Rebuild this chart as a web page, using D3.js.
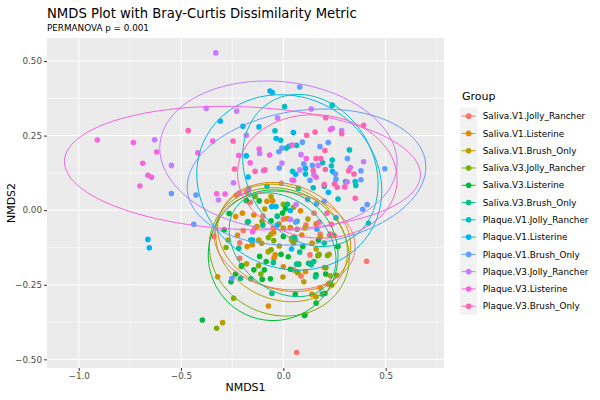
<!DOCTYPE html>
<html>
<head>
<meta charset="utf-8">
<script src="https://cdn.jsdelivr.net/npm/d3@7"></script>
<style>
  body { margin: 0; background: #fff; }
  text { font-family: "DejaVu Sans", sans-serif; }
</style>
</head>
<body>
<div id="chart"></div>
<script>
// group names, in legend order
const groups = ['Saliva.V1.Jolly_Rancher', 'Saliva.V1.Listerine', 'Saliva.V1.Brush_Only',
    'Saliva.V3.Jolly_Rancher', 'Saliva.V3.Listerine', 'Saliva.V3.Brush_Only',
    'Plaque.V1.Jolly_Rancher', 'Plaque.V1.Listerine', 'Plaque.V1.Brush_Only',
    'Plaque.V3.Jolly_Rancher', 'Plaque.V3.Listerine', 'Plaque.V3.Brush_Only'];

const colors = ['#F8766D', '#DE8C00', '#B79F00', '#7CAE00', '#00BA38', '#00C08B',
    '#00BFC4', '#00B4F0', '#619CFF', '#C77CFF', '#F564E3', '#FF64B0'];

// NMDS scores, [NMDS1, NMDS2]
const salivaV1JR = [[0.407,-0.171],[0.065,-0.477],[0.220,-0.248],[-0.213,-0.161],[0.086,-0.221],
    [-0.162,0.026],[-0.196,-0.068],[-0.340,-0.088],[0.235,-0.047],[0.248,-0.085],[-0.213,-0.109],
    [-0.140,-0.060],[0.110,-0.050],[0.180,-0.080],[0.000,-0.030],[0.060,-0.100],[-0.050,-0.060],
    [0.130,-0.150],[-0.100,-0.020],[0.150,-0.010],[-0.230,0.050],[0.050,-0.200]];
const salivaV1List = [[-0.073,-0.321],[-0.321,-0.223],[0.140,-0.282],[0.201,-0.192],[0.108,-0.206],
    [-0.233,-0.021],[-0.144,-0.016],[0.019,-0.028],[0.084,-0.002],[-0.129,-0.055],[-0.021,-0.046],
    [0.034,-0.058],[0.160,-0.046],[0.090,-0.083],[0.226,-0.084],[-0.224,-0.084],[-0.177,-0.122],
    [-0.080,0.030],[0.140,-0.110],[-0.040,-0.150],[0.000,-0.190],[0.180,-0.260],[-0.200,-0.010],
    [-0.052,0.031],[-0.047,-0.075],[-0.152,-0.116],[0.040,-0.094],[0.174,-0.150],[0.224,-0.245],
    [-0.046,-0.161]];
const salivaV1Brush = [[-0.297,-0.377],[-0.002,-0.224],[-0.060,0.046],[-0.091,0.004],[-0.060,-0.080],
    [0.000,-0.060],[0.160,-0.130],[-0.180,-0.180],[0.230,-0.220],[0.040,-0.100],[-0.120,-0.100],
    [0.100,-0.240],[0.160,-0.290],[-0.270,-0.100],[0.180,-0.090],[0.050,0.010],[-0.020,-0.120],
    [0.120,-0.030],[0.072,-0.210],[0.130,-0.178],[0.224,-0.148],[-0.074,-0.139],[-0.106,-0.111],
    [0.106,-0.060]];
const salivaV3JR = [[-0.326,-0.396],[-0.243,-0.295],[0.237,-0.251],[0.261,-0.218],[-0.121,-0.186],
    [-0.205,-0.189],[0.067,-0.207],[0.174,-0.148],[0.216,-0.152],[-0.104,-0.037],[0.067,-0.064],
    [-0.073,-0.092],[-0.047,-0.102],[0.265,-0.122],[-0.280,-0.125],[-0.060,-0.133],[0.168,-0.153],
    [-0.110,-0.214],[-0.138,0.046],[0.050,-0.110],[0.000,0.020],[0.106,-0.351],[0.208,-0.193]];
const salivaV3List = [[-0.396,-0.368],[0.103,-0.353],[0.160,-0.311],[-0.256,-0.240],[0.058,-0.282],
    [0.207,-0.214],[0.160,-0.217],[-0.063,-0.230],[-0.103,-0.232],[-0.144,-0.200],[-0.093,-0.200],
    [0.034,-0.198],[0.075,-0.181],[0.267,-0.121],[-0.181,0.032],[-0.265,-0.011],[-0.004,-0.010],
    [-0.175,-0.040],[-0.060,-0.036],[0.000,-0.088],[-0.116,-0.155],[-0.011,-0.148],[0.095,-0.122],
    [-0.084,-0.172],[-0.233,-0.214],[-0.289,-0.066],[0.010,0.005],[-0.118,0.031],[0.171,-0.100],
    [0.024,-0.156],[-0.204,-0.186],[0.203,-0.279]];
const salivaV3Brush = [[-0.056,-0.279],[0.190,-0.281],[-0.159,-0.230],[0.136,-0.183],[-0.049,-0.176],
    [-0.159,-0.100],[0.054,-0.091],[-0.218,-0.128],[0.149,-0.172],[0.123,-0.178],[0.157,-0.223],
    [-0.209,-0.228],[0.020,0.020],[-0.100,-0.050],[0.080,-0.140],[0.200,-0.110],[-0.030,-0.020],
    [0.065,-0.181],[-0.172,-0.038]];
const plaqueV1JR = [[-0.054,0.394],[0.006,0.347],[0.239,0.352],[-0.041,0.266],[-0.013,0.234],
    [0.065,0.217],[0.015,0.208],[0.028,0.214],[0.323,0.202],[0.239,0.168],[0.192,0.159],[0.235,0.149],
    [0.108,0.121],[0.045,0.130],[0.304,0.096],[0.351,0.096],[0.354,0.083],[0.146,0.075],[0.073,0.073],
    [0.267,0.037],[0.416,-0.044],[0.067,-0.037],[0.200,0.080],[-0.080,0.080]];
const plaqueV1List = [[-0.662,-0.098],[-0.655,-0.126],[-0.308,0.299],[-0.181,0.182],[-0.198,0.281],
    [-0.119,0.279],[-0.172,0.111],[-0.065,0.399],[0.049,0.260],[-0.035,0.240],[0.108,0.140],
    [0.257,-0.026],[0.034,-0.001],[0.164,-0.063],[-0.150,-0.100],[0.040,-0.130],[-0.030,-0.050],
    [0.060,0.120],[0.220,0.060],[0.240,0.130],[-0.057,0.012],[-0.036,0.012]];
const plaqueV1Brush = [[-0.547,0.056],[-0.438,-0.047],[-0.427,0.051],[0.080,0.413],[0.093,0.228],
    [0.179,0.213],[-0.007,0.208],[-0.022,0.196],[0.313,0.173],[0.142,0.150],[0.379,0.132],[0.496,0.139],
    [0.254,0.121],[0.257,0.104],[0.379,0.102],[0.388,0.003],[0.410,0.019],[0.119,0.036],[0.162,0.021],
    [-0.252,-0.229],[0.130,0.100],[0.060,-0.040],[0.200,0.030],[0.100,0.155],[0.219,0.227],
    [-0.020,0.141]];
const plaqueV3JR = [[-0.330,0.527],[-0.629,0.236],[-0.547,0.150],[-0.377,0.341],[-0.228,0.332],
    [-0.181,0.251],[-0.116,0.190],[-0.244,0.092],[-0.317,0.034],[-0.097,0.133],[0.136,0.339],
    [-0.028,0.309],[0.239,0.274],[0.285,0.267],[0.086,0.186],[0.392,0.162],[-0.007,0.158],[0.328,0.143],
    [0.149,0.119],[0.312,0.094],[0.043,0.101],[0.062,0.019],[0.034,-0.031],[0.170,0.150],[-0.010,0.090],
    [0.081,0.135]];
const plaqueV3List = [[-0.909,0.235],[-0.733,0.227],[-0.619,0.195],[-0.687,0.157],[-0.662,0.117],
    [-0.644,0.110],[-0.701,0.081],[-0.418,0.192],[-0.345,0.232],[-0.218,0.183],[-0.118,0.205],
    [-0.067,0.185],[-0.162,0.159],[-0.326,0.055],[-0.285,0.054],[-0.216,0.057],[0.043,0.218],
    [0.112,0.173],[-0.168,0.073],[0.160,0.110],[0.230,0.270],[0.050,0.100],[-0.150,-0.072]];
const plaqueV3Brush = [[-0.465,0.267],[-0.246,0.232],[-0.239,0.138],[-0.138,0.130],[0.207,0.310],
    [0.114,0.251],[0.155,0.262],[0.285,0.256],[0.392,0.284],[0.203,0.200],[0.160,0.173],[0.183,0.173],
    [0.205,0.136],[0.319,0.132],[0.345,0.121],[0.300,0.078],[0.263,0.077],[0.250,0.088],[0.200,0.086],
    [0.351,0.040],[0.213,-0.010],[0.175,-0.040],[0.230,-0.080],[-0.180,0.060],[0.146,0.133],
    [-0.090,0.135]];

const scores = [salivaV1JR, salivaV1List, salivaV1Brush, salivaV3JR, salivaV3List, salivaV3Brush,
    plaqueV1JR, plaqueV1List, plaqueV1Brush, plaqueV3JR, plaqueV3List, plaqueV3Brush];

// 95% ellipses: centre x, centre y, half x-width,
// y offset at the right end, half y-height
const ellCx = [0.006, 0.004, -0.009, -0.020, -0.050, -0.004, 0.132, 0.029, 0.113, -0.024, -0.200, 0.166];
const ellCy = [-0.102, -0.090, -0.110, -0.140, -0.151, -0.116, 0.133, 0.093, 0.111, 0.183, 0.141, 0.113];
const ellA  = [0.345, 0.325, 0.322, 0.342, 0.317, 0.261, 0.331, 0.452, 0.583, 0.580, 0.870, 0.390];
const ellC  = [-0.020, -0.030, -0.030, -0.020, 0.000, -0.050, -0.046, -0.028, 0.034, -0.025, -0.022, -0.010];
const ellR  = [0.165, 0.183, 0.197, 0.215, 0.219, 0.174, 0.255, 0.294, 0.228, 0.250, 0.207, 0.207];

const xTicks = [-1.0, -0.5, 0.0, 0.5];
const yTicks = [-0.50, -0.25, 0.00, 0.25, 0.50];

const W = 600, H = 400;
const panel = {left: 47, right: 444, top: 38, bottom: 368};

const svg = d3.select('#chart').append('svg')
    .attr('width', W)
    .attr('height', H);

const x = d3.scaleLinear().domain([-1.155, 0.785]).range([panel.left, panel.right]);
const y = d3.scaleLinear().domain([-0.529, 0.577]).range([panel.bottom, panel.top]);

// panel background
svg.append('rect')
    .attr('x', panel.left).attr('y', panel.top)
    .attr('width', panel.right - panel.left)
    .attr('height', panel.bottom - panel.top)
    .attr('fill', '#EBEBEB');

// minor grid lines sit half way between the majors
const xMinor = xTicks.map(d => d + 0.25).concat([xTicks[0] - 0.25]).filter(d => d > x.domain()[0] && d < x.domain()[1]);
const yMinor = yTicks.slice(1).map(d => d - 0.125).concat([0.625 - 0.25]).filter(d => d > y.domain()[0] && d < y.domain()[1]);

const grid = svg.append('g');
grid.selectAll('.xminor').data(xMinor).enter().append('line')
    .attr('x1', d => x(d)).attr('x2', d => x(d))
    .attr('y1', panel.top).attr('y2', panel.bottom)
    .attr('stroke', '#fff').attr('stroke-width', 0.5);
grid.selectAll('.yminor').data(yMinor).enter().append('line')
    .attr('y1', d => y(d)).attr('y2', d => y(d))
    .attr('x1', panel.left).attr('x2', panel.right)
    .attr('stroke', '#fff').attr('stroke-width', 0.5);
grid.selectAll('.xmajor').data(xTicks).enter().append('line')
    .attr('x1', d => x(d)).attr('x2', d => x(d))
    .attr('y1', panel.top).attr('y2', panel.bottom)
    .attr('stroke', '#fff').attr('stroke-width', 1);
grid.selectAll('.ymajor').data(yTicks).enter().append('line')
    .attr('y1', d => y(d)).attr('y2', d => y(d))
    .attr('x1', panel.left).attr('x2', panel.right)
    .attr('stroke', '#fff').attr('stroke-width', 1);

// axes
const xAxis = d3.axisBottom(x).tickValues(xTicks).tickFormat(d3.format('.1f')).tickSize(3).tickPadding(2);
const yAxis = d3.axisLeft(y).tickValues(yTicks).tickFormat(d3.format('.2f')).tickSize(3).tickPadding(2);

const gx = svg.append('g').attr('transform', `translate(0,${panel.bottom})`).call(xAxis);
const gy = svg.append('g').attr('transform', `translate(${panel.left},0)`).call(yAxis);
[gx, gy].forEach(g => {
    g.select('.domain').remove();
    g.selectAll('.tick line').attr('stroke', '#333333');
    g.selectAll('.tick text').attr('fill', '#4D4D4D').style('font-size', '8.8px');
});

// ellipses
const t = d3.range(0, 101).map(i => i / 100 * 2 * Math.PI);
const ellLine = d3.line().x(d => x(d[0])).y(d => y(d[1]));

const ellipses = groups.map((g, i) => {
    const B = Math.sqrt(Math.max(ellR[i] * ellR[i] - ellC[i] * ellC[i], 0));
    return t.map(a => [ellCx[i] + ellA[i] * Math.cos(a),
                       ellCy[i] + ellC[i] * Math.cos(a) + B * Math.sin(a)]);
});

svg.append('clipPath').attr('id', 'panelClip')
    .append('rect')
    .attr('x', panel.left).attr('y', panel.top)
    .attr('width', panel.right - panel.left).attr('height', panel.bottom - panel.top);

const plot = svg.append('g').attr('clip-path', 'url(#panelClip)');

// points
groups.forEach((g, i) => {
    plot.append('g').selectAll('circle')
        .data(scores[i])
        .enter().append('circle')
        .attr('cx', d => x(d[0]))
        .attr('cy', d => y(d[1]))
        .attr('r', 2.8)
        .attr('fill', colors[i]);
});

plot.selectAll('.ell')
    .data(ellipses)
    .enter().append('path')
    .attr('class', 'ell')
    .attr('d', ellLine)
    .attr('fill', 'none')
    .attr('stroke', (d, i) => colors[i])
    .attr('stroke-width', 1);

// titles
svg.append('text').attr('x', panel.left).attr('y', 18)
    .style('font-size', '13.2px').attr('fill', '#000')
    .text('NMDS Plot with Bray-Curtis Dissimilarity Metric');
svg.append('text').attr('x', panel.left).attr('y', 31)
    .style('font-size', '8.8px').attr('fill', '#000')
    .text('PERMANOVA p = 0.001');

svg.append('text')
    .attr('x', (panel.left + panel.right) / 2).attr('y', 391)
    .attr('text-anchor', 'middle')
    .style('font-size', '11px')
    .text('NMDS1');
svg.append('text')
    .attr('transform', `translate(15,${(panel.top + panel.bottom) / 2}) rotate(-90)`)
    .attr('text-anchor', 'middle')
    .style('font-size', '11px')
    .text('NMDS2');

// legend
const legend = svg.append('g').attr('transform', 'translate(460,0)');
const keyH = 17.28;
const key0 = 107.5;

legend.append('text').attr('x', 2).attr('y', 100)
    .style('font-size', '11px')
    .text('Group');

const items = legend.selectAll('.item')
    .data(groups)
    .enter().append('g')
    .attr('transform', (d, i) => `translate(0,${key0 + i * keyH})`);

items.append('rect')
    .attr('width', keyH).attr('height', keyH)
    .attr('fill', '#F2F2F2');
items.append('line')
    .attr('x1', 1.7).attr('x2', keyH - 1.7)
    .attr('y1', keyH / 2).attr('y2', keyH / 2)
    .attr('stroke', (d, i) => colors[i]).attr('stroke-width', 1);
items.append('circle')
    .attr('cx', keyH / 2).attr('cy', keyH / 2).attr('r', 2.8)
    .attr('fill', (d, i) => colors[i]);
items.append('text')
    .attr('x', keyH + 5.5).attr('y', keyH / 2 + 3.2)
    .style('font-size', '8.8px')
    .text(d => d);
</script>
</body>
</html>
